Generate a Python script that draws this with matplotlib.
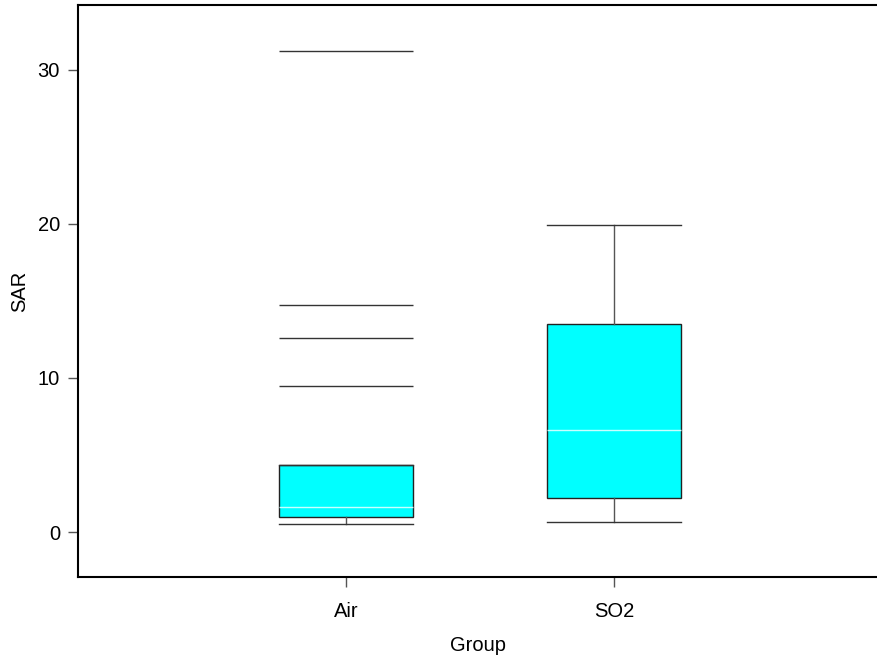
import matplotlib
matplotlib.use("Agg")
import matplotlib.pyplot as plt

plt.rcParams['font.family'] = ['Liberation Sans', 'DejaVu Sans']

# values
groups = ["Air", "SO2"]
whislo = [0.5, 0.63]
q1 = [0.95, 2.19]
med = [1.63, 6.62]
q3 = [4.32, 13.5]
whishi = [4.32, 19.95]
outliers = [[9.5, 12.6, 14.75, 31.2], []]

stats = []
for i, g in enumerate(groups):
    stats.append(dict(label=g, whislo=whislo[i], q1=q1[i], med=med[i],
                      q3=q3[i], whishi=whishi[i], fliers=[]))

fig = plt.figure(figsize=(8.78, 6.59), dpi=100)
ax = fig.add_axes([78 / 878, 1 - 577 / 659, 1 - 78 / 878, (577 - 5) / 659])

pos = [1, 2]
width = 0.5
ax.bxp(stats, positions=pos, widths=width, patch_artist=True, showfliers=False,
       boxprops=dict(facecolor="#00ffff", edgecolor="#222222", linewidth=1.0),
       medianprops=dict(color="#c8ffff", linewidth=1.0),
       whiskerprops=dict(color="#555555", linewidth=1.0),
       capprops=dict(color="#333333", linewidth=1.0),
       capwidths=width)

for p, outs in zip(pos, outliers):
    if outs:
        ax.hlines(outs, p - width / 2, p + width / 2, color="#333333", linewidth=1.0)

ax.set_xlim(0, 2.985)
ax.set_ylim(-2.92, 34.2)
ax.set_yticks([0, 10, 20, 30])
ax.set_xticks(pos)
ax.set_xticklabels(groups)
ax.spines['right'].set_visible(False)
for s in ['left', 'top', 'bottom']:
    ax.spines[s].set_linewidth(1.5)
ax.tick_params(direction='out', length=7, width=1, color="#555555",
               labelsize=14.5)
ax.tick_params(axis='x', pad=11)
ax.tick_params(axis='y', pad=6)
ax.set_xlabel("Group", fontsize=14.5, labelpad=11)
ax.set_ylabel("SAR", fontsize=14.5, labelpad=6)

fig.savefig("out.png", dpi=100)
